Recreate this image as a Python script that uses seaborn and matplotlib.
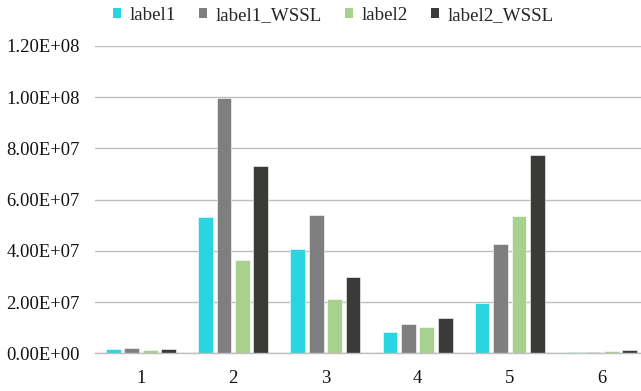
import matplotlib
matplotlib.use("Agg")
import matplotlib.pyplot as plt
import matplotlib.ticker as mticker
from matplotlib.patches import Patch
from matplotlib.font_manager import FontProperties
import seaborn as sns
import pandas as pd

groups = ["1", "2", "3", "4", "5", "6"]
series = ["label1", "label1_WSSL", "label2", "label2_WSSL"]
label1 = [1.8e6, 5.31e7, 4.09e7, 8.5e6, 1.95e7, 5.0e5]
label1_wssl = [2.0e6, 9.97e7, 5.39e7, 1.14e7, 4.27e7, 5.0e5]
label2 = [1.4e6, 3.63e7, 2.11e7, 1.04e7, 5.37e7, 9.0e5]
label2_wssl = [1.8e6, 7.33e7, 2.99e7, 1.36e7, 7.74e7, 1.2e6]
colors = ["#29D5E0", "#7F7F7F", "#A9D18E", "#3A3A38"]
yticks = [0, 2e7, 4e7, 6e7, 8e7, 1.0e8, 1.2e8]

df = pd.DataFrame({
    "group": groups * 4,
    "series": [s for s in series for _ in groups],
    "value": label1 + label1_wssl + label2 + label2_wssl,
})

sns.set_theme(style="white")
plt.rcParams["font.family"] = ["Liberation Serif", "DejaVu Serif"]

fig = plt.figure(figsize=(6.41, 3.91), dpi=100)
ax = fig.add_axes([0.148, 0.0964, 0.863, 0.7860])

sns.barplot(data=df, x="group", y="value", hue="series", order=groups,
            hue_order=series, palette=colors, saturation=1, width=0.8,
            gap=0.2, edgecolor="white", linewidth=0.4, errorbar=None, ax=ax,
            legend=False)

ax.set_ylim(0, 1.2e8)
ax.set_yticks(yticks)
ax.yaxis.set_major_formatter(mticker.FuncFormatter(
    lambda v, _: "{:.2E}".format(v)))
ax.grid(axis="y", color="#BEBEBE", linewidth=1.0)
ax.set_axisbelow(True)
for side in ["top", "right", "left"]:
    ax.spines[side].set_visible(False)
ax.spines["bottom"].set_color("#BEBEBE")
ax.spines["bottom"].set_linewidth(1.0)
ax.tick_params(axis="y", length=0, pad=11, labelsize=13.4, colors="#111111")
ax.tick_params(axis="x", length=0, pad=12, labelsize=13.4, colors="#111111")
ax.set_xlabel("")
ax.set_ylabel("")

handles = [Patch(facecolor=c, edgecolor="none", label=s)
           for c, s in zip(colors, series)]
fig.legend(handles=handles, loc="center", bbox_to_anchor=(0.52, 0.96),
           ncol=4, frameon=False,
           prop=FontProperties(family="Liberation Serif", size=13.6),
           handlelength=0.45, handleheight=0.45, handletextpad=0.45,
           columnspacing=1.2)

fig.savefig("out.png", dpi=100)
